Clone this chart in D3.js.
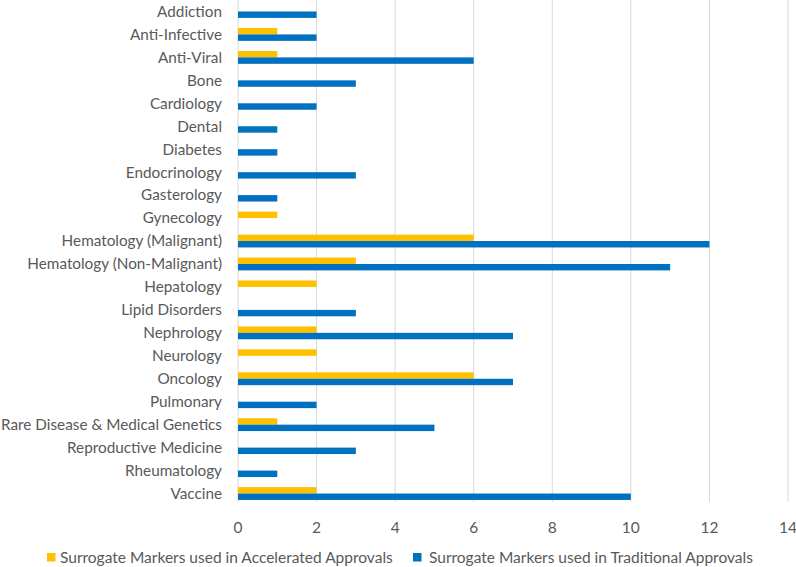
<!DOCTYPE html>
<html>
<head>
<meta charset="utf-8">
<script src="https://cdn.jsdelivr.net/npm/d3@7"></script>
<style>
  body { margin: 0; background: #fff; }
  text { font-family: Lato, "Open Sans", sans-serif; fill: #595959; }
</style>
</head>
<body>
<div id="chart"></div>
<script>
// categories, top to bottom
var categories = ["Addiction", "Anti-Infective", "Anti-Viral", "Bone", "Cardiology", "Dental",
    "Diabetes", "Endocrinology", "Gasterology", "Gynecology", "Hematology (Malignant)",
    "Hematology (Non-Malignant)", "Hepatology", "Lipid Disorders", "Nephrology", "Neurology",
    "Oncology", "Pulmonary", "Rare Disease & Medical Genetics", "Reproductive Medicine",
    "Rheumatology", "Vaccine"];

var accelerated = [0, 1, 1, 0, 0, 0, 0, 0, 0, 1, 6, 3, 2, 0, 2, 2, 6, 0, 1, 0, 0, 2];
var traditional = [2, 2, 6, 3, 2, 1, 1, 3, 1, 0, 12, 11, 0, 3, 7, 0, 7, 2, 5, 3, 1, 10];

var seriesNames = ["Surrogate Markers used in Accelerated Approvals",
                   "Surrogate Markers used in Traditional Approvals"];
var seriesColors = ["#FFC000", "#0070C0"];
var xTicks = [0, 2, 4, 6, 8, 10, 12, 14];

var W = 796, H = 567;
var margin = {top: 0, right: 8, bottom: 62, left: 238},
    width = W - margin.left - margin.right,
    height = 505;

var svg = d3.select("#chart")
  .append("svg")
    .attr("width", W)
    .attr("height", H);

var g = svg.append("g")
    .attr("transform", "translate(" + margin.left + "," + margin.top + ")");

var x = d3.scaleLinear()
    .domain([0, 14])
    .range([0, width]);

var y = d3.scaleBand()
    .domain(categories)
    .range([0, height])
    .paddingInner(0.44)
    .paddingOuter(0.22);

var ySub = d3.scaleBand()
    .domain([0, 1])
    .range([0, y.bandwidth()]);

// gridlines
g.append("g")
  .selectAll("line")
  .data(xTicks)
  .enter()
  .append("line")
    .attr("x1", d => x(d))
    .attr("x2", d => x(d))
    .attr("y1", 0)
    .attr("y2", height - 3)
    .attr("stroke", "#d9d9d9")
    .attr("stroke-width", 1);

// x tick labels
g.append("g")
  .selectAll("text")
  .data(xTicks)
  .enter()
  .append("text")
    .attr("x", d => x(d))
    .attr("y", 528)
    .attr("dy", "0.35em")
    .attr("text-anchor", "middle")
    .style("font-size", "15.5px")
    .text(d => d);

// category labels
g.append("g")
  .selectAll("text")
  .data(categories)
  .enter()
  .append("text")
    .attr("x", -16)
    .attr("y", d => y(d) + y.bandwidth() / 2)
    .attr("dy", "0.35em")
    .attr("text-anchor", "end")
    .style("font-size", "15.3px")
    .text(d => d);

// bars
var series = [accelerated, traditional];
series.forEach(function(vals, si) {
  g.append("g")
    .selectAll("rect")
    .data(categories)
    .enter()
    .append("rect")
      .attr("x", x(0))
      .attr("y", (d) => y(d) + ySub(si))
      .attr("width", (d, i) => x(vals[i]) - x(0))
      .attr("height", ySub.bandwidth())
      .attr("fill", seriesColors[si]);
});

// legend
var legendX = [47, 413];
var legend = svg.append("g")
  .selectAll("g")
  .data(seriesNames)
  .enter()
  .append("g")
    .attr("transform", (d, i) => "translate(" + legendX[i] + ",553)");

legend.append("rect")
    .attr("width", 8.5)
    .attr("height", 8.5)
    .attr("fill", (d, i) => seriesColors[i]);

legend.append("text")
    .attr("x", (d, i) => i === 0 ? 13 : 16)
    .attr("y", 4.5)
    .attr("dy", "0.35em")
    .style("font-size", "15.5px")
    .text(d => d);
</script>
</body>
</html>
